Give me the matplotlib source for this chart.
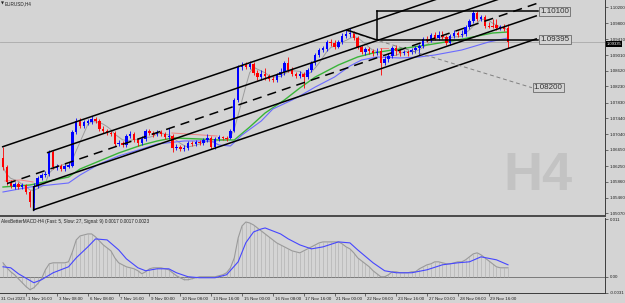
import matplotlib
matplotlib.use("Agg")
import matplotlib.pyplot as plt
import numpy as np
import pandas as pd

plt.rcParams['font.family'] = ['Liberation Sans', 'DejaVu Sans']

# ---------------- data (EURUSD H4) ----------------
opens = [1.06451, 1.06227, 1.05854, 1.05729, 1.05804, 1.05729, 1.05779, 1.05605, 1.05331, 1.05754,
         1.05953, 1.06028, 1.06053, 1.06600, 1.06202, 1.06252, 1.06177, 1.06227, 1.06252, 1.07098,
         1.07372, 1.07247, 1.07322, 1.07347, 1.07421, 1.07372, 1.07173, 1.07123, 1.07073, 1.07073,
         1.06799, 1.06824, 1.06774, 1.06998, 1.07048, 1.06899, 1.06824, 1.06924, 1.07123, 1.07073,
         1.07048, 1.07098, 1.07048, 1.06973, 1.06998, 1.06700, 1.06725, 1.06675, 1.06700, 1.06824,
         1.06799, 1.06849, 1.06824, 1.06899, 1.06949, 1.06725, 1.06924, 1.06973, 1.06949, 1.06949,
         1.07123, 1.07894, 1.08715, 1.08765, 1.08715, 1.08790, 1.08566, 1.08466, 1.08541, 1.08491,
         1.08417, 1.08392, 1.08516, 1.08591, 1.08815, 1.08640, 1.08541, 1.08491, 1.08541, 1.08466,
         1.08640, 1.08815, 1.09014, 1.09138, 1.09163, 1.09337, 1.09312, 1.09213, 1.09337, 1.09486,
         1.09536, 1.09561, 1.09437, 1.09213, 1.09088, 1.09163, 1.09113, 1.09063, 1.09113, 1.08815,
         1.08914, 1.08989, 1.09188, 1.09113, 1.09063, 1.09088, 1.09088, 1.09138, 1.09188, 1.09238,
         1.09412, 1.09387, 1.09511, 1.09437, 1.09511, 1.09461, 1.09312, 1.09486, 1.09561, 1.09511,
         1.09536, 1.09710, 1.09860, 1.10059, 1.09909, 1.09959, 1.09735, 1.09735, 1.09760, 1.09685,
         1.09710, 1.09685]
highs = [1.06725, 1.06277, 1.05904, 1.05854, 1.05854, 1.05829, 1.05804, 1.05655, 1.05829, 1.06003,
         1.06078, 1.06128, 1.06650, 1.06650, 1.06302, 1.06302, 1.06302, 1.06351, 1.07148, 1.07446,
         1.07446, 1.07396, 1.07421, 1.07496, 1.07471, 1.07421, 1.07247, 1.07173, 1.07123, 1.07123,
         1.06899, 1.06874, 1.07048, 1.07123, 1.07098, 1.06949, 1.06998, 1.07173, 1.07173, 1.07123,
         1.07148, 1.07148, 1.07098, 1.07197, 1.07048, 1.06799, 1.06774, 1.06774, 1.06874, 1.06874,
         1.06899, 1.06899, 1.06949, 1.07048, 1.06998, 1.06973, 1.07023, 1.06998, 1.06998, 1.07173,
         1.07944, 1.08765, 1.08839, 1.08839, 1.08864, 1.08839, 1.08640, 1.08640, 1.08690, 1.08541,
         1.08491, 1.08566, 1.08690, 1.08864, 1.08964, 1.08715, 1.08591, 1.08616, 1.08591, 1.08690,
         1.08864, 1.09063, 1.09188, 1.09238, 1.09387, 1.09412, 1.09387, 1.09387, 1.09561, 1.09636,
         1.09685, 1.09611, 1.09486, 1.09262, 1.09213, 1.09213, 1.09163, 1.09188, 1.09188, 1.08989,
         1.09063, 1.09238, 1.09262, 1.09163, 1.09138, 1.09138, 1.09188, 1.09238, 1.09287, 1.09461,
         1.09486, 1.09561, 1.09586, 1.09611, 1.09611, 1.09511, 1.09536, 1.09636, 1.09611, 1.09636,
         1.09760, 1.09909, 1.10133, 1.10108, 1.10009, 1.10009, 1.09835, 1.09909, 1.09909, 1.09760,
         1.09785, 1.09785]
lows = [1.06152, 1.05779, 1.05705, 1.05680, 1.05680, 1.05680, 1.05555, 1.05232, 1.05157, 1.05705,
        1.05904, 1.05978, 1.06003, 1.06177, 1.06152, 1.06128, 1.06128, 1.06202, 1.06227, 1.07048,
        1.07197, 1.07197, 1.07272, 1.07297, 1.07322, 1.07123, 1.07073, 1.07023, 1.06998, 1.06750,
        1.06750, 1.06725, 1.06725, 1.06949, 1.06849, 1.06750, 1.06774, 1.06874, 1.07023, 1.06973,
        1.06998, 1.06998, 1.06924, 1.06924, 1.06600, 1.06650, 1.06625, 1.06625, 1.06650, 1.06750,
        1.06750, 1.06774, 1.06774, 1.06849, 1.06675, 1.06675, 1.06874, 1.06899, 1.06874, 1.06924,
        1.07098, 1.07844, 1.08640, 1.08665, 1.08665, 1.08516, 1.08392, 1.08392, 1.08392, 1.08367,
        1.08342, 1.08342, 1.08466, 1.08516, 1.08591, 1.08491, 1.08441, 1.08441, 1.08193, 1.08417,
        1.08591, 1.08765, 1.08964, 1.09088, 1.09113, 1.09238, 1.09163, 1.09188, 1.09287, 1.09437,
        1.09461, 1.09387, 1.09163, 1.09039, 1.09014, 1.09039, 1.08989, 1.09014, 1.08516, 1.08765,
        1.08839, 1.08939, 1.09014, 1.08989, 1.09014, 1.08989, 1.09039, 1.09063, 1.09014, 1.09188,
        1.09337, 1.09337, 1.09387, 1.09387, 1.09412, 1.09262, 1.09262, 1.09437, 1.09461, 1.09461,
        1.09486, 1.09661, 1.09810, 1.09860, 1.09860, 1.09685, 1.09685, 1.09685, 1.09636, 1.09636,
        1.09611, 1.09188]
closes = [1.06227, 1.05854, 1.05754, 1.05804, 1.05729, 1.05779, 1.05605, 1.05356, 1.05754, 1.05953,
          1.06028, 1.06053, 1.06600, 1.06227, 1.06252, 1.06177, 1.06252, 1.06277, 1.07098, 1.07372,
          1.07247, 1.07347, 1.07372, 1.07421, 1.07372, 1.07173, 1.07123, 1.07073, 1.07048, 1.06799,
          1.06824, 1.06774, 1.06998, 1.07048, 1.06899, 1.06824, 1.06924, 1.07123, 1.07073, 1.07023,
          1.07098, 1.07048, 1.06973, 1.06998, 1.06700, 1.06725, 1.06675, 1.06700, 1.06824, 1.06799,
          1.06849, 1.06824, 1.06899, 1.06949, 1.06725, 1.06924, 1.06973, 1.06949, 1.06924, 1.07123,
          1.07894, 1.08715, 1.08765, 1.08715, 1.08790, 1.08566, 1.08466, 1.08541, 1.08491, 1.08417,
          1.08392, 1.08516, 1.08591, 1.08815, 1.08640, 1.08541, 1.08491, 1.08541, 1.08466, 1.08640,
          1.08815, 1.09014, 1.09138, 1.09188, 1.09337, 1.09312, 1.09213, 1.09337, 1.09486, 1.09536,
          1.09561, 1.09437, 1.09213, 1.09088, 1.09163, 1.09113, 1.09063, 1.09088, 1.08815, 1.08914,
          1.08989, 1.09188, 1.09113, 1.09063, 1.09088, 1.09063, 1.09138, 1.09188, 1.09238, 1.09412,
          1.09387, 1.09511, 1.09437, 1.09511, 1.09461, 1.09312, 1.09486, 1.09561, 1.09511, 1.09536,
          1.09710, 1.09860, 1.10059, 1.09909, 1.09959, 1.09735, 1.09710, 1.09710, 1.09685, 1.09710,
          1.09661, 1.09337]

# moving averages (at sample bars)
green_bars = [0, 7, 12, 17, 20, 25, 30, 33, 36, 40, 44, 51, 56, 60, 64, 68, 73, 77, 81, 87,
              92, 96, 101, 110, 118, 127, 131]
green_vals = [1.05729, 1.05779, 1.05879, 1.05978, 1.06177, 1.06376, 1.06575, 1.06675, 1.06774, 1.06874,
              1.06949, 1.06924, 1.06899, 1.06899, 1.07222, 1.07571, 1.07894, 1.08193, 1.08466, 1.08765,
              1.08964, 1.09063, 1.09138, 1.09262, 1.09387, 1.09561, 1.09586]
blue_bars = [0, 7, 12, 17, 20, 25, 30, 36, 40, 47, 54, 56, 59, 62, 67, 70, 75, 77, 81, 86,
             90, 93, 97, 103, 108, 112, 119, 126, 131]
blue_vals = [1.05605, 1.05729, 1.05779, 1.05829, 1.06028, 1.06302, 1.06501, 1.06675, 1.06799, 1.06874,
             1.06874, 1.06774, 1.06750, 1.07023, 1.07372, 1.07670, 1.07894, 1.07994, 1.08217, 1.08466,
             1.08740, 1.08889, 1.08964, 1.08939, 1.08964, 1.09014, 1.09138, 1.09337, 1.09437]

# MACD (Fast 5, Slow 27, Signal 9)
macd_main = [0.00266, 0.00171, 0.00095, 0.00038, -0.00038, -0.00114, -0.0019, -0.00247, -0.00209, -0.00133,
             -0.00038, 0.00133, 0.00247, 0.00266, 0.00266, 0.00266, 0.00266, 0.00285, 0.00475, 0.00703,
             0.00779, 0.00798, 0.00817, 0.00817, 0.0076, 0.00684, 0.00608, 0.00551, 0.00494, 0.00361,
             0.00266, 0.00228, 0.0019, 0.00171, 0.00152, 0.00114, 0.00057, 0.00095, 0.00152, 0.00171,
             0.00171, 0.00171, 0.00152, 0.00133, 0.00076, 0.00019, -0.00019, -0.00057, -0.00057, -0.00038,
             -0.00019, 0.0, 0.0, 0.0, 0.0, 0.0, 0.00019, 0.00038, 0.00076, 0.00171,
             0.00361, 0.00741, 0.00969, 0.01045, 0.01026, 0.00988, 0.00931, 0.00874, 0.00817, 0.0076,
             0.00703, 0.00646, 0.00608, 0.0057, 0.00532, 0.00494, 0.00475, 0.00456, 0.00494, 0.00532,
             0.0057, 0.00608, 0.00646, 0.00665, 0.00665, 0.00665, 0.00665, 0.00665, 0.00627, 0.0057,
             0.00532, 0.00456, 0.00361, 0.00304, 0.00247, 0.0019, 0.00114, 0.00057, 0.0, 0.0,
             0.00038, 0.00095, 0.00095, 0.00076, 0.00076, 0.00076, 0.00095, 0.00095, 0.00152, 0.0019,
             0.00228, 0.00247, 0.00285, 0.00285, 0.00266, 0.00247, 0.00247, 0.00266, 0.00285, 0.00285,
             0.00323, 0.0038, 0.00437, 0.00456, 0.00418, 0.00361, 0.00304, 0.00247, 0.0019, 0.00171,
             0.00171, 0.00171]
sig_bars = [0, 2, 4, 8, 10, 13, 17, 19, 22, 24, 27, 30, 32, 35, 37, 40, 43, 45, 48, 51,
            55, 58, 61, 63, 65, 67, 68, 70, 72, 74, 77, 80, 83, 87, 90, 92, 96, 99, 102, 106,
            110, 114, 118, 121, 124, 128, 131]
sig_vals = [0.0019, 0.00171, 0.00057, -0.00114, -0.00057, 0.00076, 0.0019, 0.00361, 0.0057, 0.00722,
            0.00703, 0.00513, 0.00342, 0.00171, 0.00114, 0.00152, 0.00152, 0.00076, 0.0, -0.00019,
            -0.00019, 0.00038, 0.00285, 0.0065, 0.00855, 0.00912, 0.00931, 0.00874, 0.00817, 0.00722,
            0.00608, 0.00532, 0.0057, 0.00665, 0.00646, 0.00513, 0.00266, 0.00114, 0.00076, 0.00076,
            0.00133, 0.00228, 0.00266, 0.00285, 0.0038, 0.00323, 0.00228]

price_ticks = [1.10200, 1.09800, 1.09410, 1.09010, 1.08620, 1.08230, 1.07830, 1.07440,
               1.07040, 1.06650, 1.06250, 1.05860, 1.05460, 1.05070]
macd_ticks = [0.011, 0.0, -0.0031]
macd_tick_labels = ['0.011', '0.00', '-0.0031']
date_bars = [6, 14, 22, 30, 38, 46, 54, 62, 70, 78, 86, 94, 102, 110, 118, 126]
date_labels = ['1 Nov 16:00', '3 Nov 08:00', '6 Nov 08:00', '7 Nov 16:00', '9 Nov 00:00',
               '10 Nov 08:00', '13 Nov 16:00', '15 Nov 00:00', '16 Nov 08:00', '17 Nov 16:00',
               '21 Nov 00:00', '22 Nov 08:00', '23 Nov 16:00', '27 Nov 00:00', '28 Nov 08:00',
               '29 Nov 16:00']

# drawn objects (bar index, price)
channel_solid = [([-0.26, 138.5], [1.06725, 1.11250]),
                 ([11.4, 138.5], [1.06580, 1.10725]),
                 ([7.78, 138.5], [1.05729, 1.09992]),
                 ([7.78, 138.5], [1.05157, 1.09420])]
channel_dashed = ([1.04, 138.5], [1.05814, 1.10297])
hlines_levels = [1.10100, 1.09395]
hline_span = [97.0, 138.8]
target_line = ([89.2, 137.2], [1.09611, 1.08200])
handle_line = ([89.2, 97.0], [1.09636, 1.09387])
red_segments = [([0.5, 4.5, 7.8], [1.05880, 1.05904, 1.05854]),
                ([43.8, 55.5], [1.07073, 1.06998]),
                ([97.8, 99.9], [1.09188, 1.09188])]
bid_price = 1.09337

# ---------------- layout ----------------
BG = '#d4d4d4'
W, H = 625, 303
def fx(x): return x / W
def fy(y): return 1 - y / H

MAIN_BOT = 215.5
IND_TOP, IND_BOT = 218, 293
RIGHT = 605
DX, X0 = 3.855, 3.0
XL = (-X0 / DX, (RIGHT - X0) / DX)

fig = plt.figure(figsize=(6.25, 3.03), dpi=100, facecolor=BG)
ax = fig.add_axes([0, fy(MAIN_BOT), RIGHT / W, MAIN_BOT / H])
ax2 = fig.add_axes([0, fy(IND_BOT), RIGHT / W, (IND_BOT - IND_TOP) / H])
for a in (ax, ax2):
    a.set_facecolor(BG)
    a.set_xlim(*XL)
    a.spines['left'].set_visible(False)
    a.spines['top'].set_visible(False)
    a.spines['right'].set_color('#3c3c3c')
    a.spines['right'].set_linewidth(0.7)
ax.spines['bottom'].set_color('#4a4a4a')
ax.spines['bottom'].set_linewidth(1.4)
ax2.spines['bottom'].set_color('#3c3c3c')
ax2.spines['bottom'].set_linewidth(0.7)
ax.set_ylim(1.05020, 1.10382)
ax2.set_ylim(-0.0031, 0.01121)

# watermark
ax.text(0.8314, 0.118, 'H4', transform=ax.transAxes, fontsize=39, fontweight='bold',
        color='#c3c3c3', ha='left', va='baseline', zorder=0.5)

# bid line
ax.axhline(bid_price, color='#a9a9a9', lw=0.6, zorder=1)

# candles
idx = np.arange(len(closes))
o = np.array(opens); c = np.array(closes); h = np.array(highs); l = np.array(lows)
up = c >= o
cols = np.where(up, '#0000ff', '#ff0000')
ax.vlines(idx, l, h, colors=cols, lw=0.6, zorder=4)
ax.bar(idx, np.maximum(np.abs(c - o), 0.00008), bottom=np.minimum(o, c), width=0.62,
       color=cols, lw=0, zorder=5)

# moving averages
ax.plot(idx, pd.Series(c).rolling(5, min_periods=1).mean(), color='#9c9c9c', lw=0.7, zorder=3)
ax.plot(green_bars, green_vals, color='#38b438', lw=1.0, zorder=3)
ax.plot(blue_bars, blue_vals, color='#6a6aff', lw=0.8, zorder=3)
for xs, ys in red_segments:
    ax.plot(xs, ys, color='#f08080', lw=0.7, zorder=3)

# channel & objects
for xs, ys in channel_solid:
    ax.plot(xs, ys, color='black', lw=1.1, zorder=6, solid_capstyle='butt')
ax.plot(*channel_dashed, color='black', lw=1.1, ls=(0, (6, 4)), zorder=6)
ax.plot([7.78, 7.78], [channel_solid[3][1][0], channel_solid[2][1][0]], color='black', lw=0.9, zorder=6)
for lvl in hlines_levels:
    ax.plot(hline_span, [lvl, lvl], color='black', lw=1.1, zorder=6)
ax.plot([hline_span[0]] * 2, hlines_levels, color='black', lw=1.1, zorder=6)
ax.plot(*target_line, color='#808080', lw=0.7, ls=(0, (4, 3)), zorder=6)
ax.plot(*handle_line, color='black', lw=1.1, zorder=6)

box = dict(boxstyle='square,pad=0.15', fc=BG, ec='#6a6a6a', lw=0.6)
ax.text(139.4, hlines_levels[0], '1.10100', fontsize=5.8, va='center', ha='left', color='#303030', bbox=box, zorder=7)
ax.text(139.4, hlines_levels[1], '1.09395', fontsize=5.8, va='center', ha='left', color='#303030', bbox=box, zorder=7)
ax.text(137.7, target_line[1][1], '1.08200', fontsize=5.8, va='center', ha='left', color='#303030', bbox=box, zorder=7)

# axes ticks
ax.yaxis.tick_right()
ax.set_yticks(price_ticks)
ax.set_yticklabels([f'{v:.5f}' for v in price_ticks])
ax.tick_params(axis='y', direction='out', length=2, width=0.5, color='#3c3c3c',
               labelsize=3.2, pad=1.2, labelcolor='#202020')
ax.tick_params(axis='x', bottom=False, labelbottom=False)

ax2.yaxis.tick_right()
ax2.set_yticks(macd_ticks)
ax2.set_yticklabels(macd_tick_labels)
ax2.tick_params(axis='y', direction='out', length=2, width=0.5, color='#3c3c3c',
                labelsize=3.2, pad=1.2, labelcolor='#202020')
ax2.set_xticks(date_bars)
ax2.set_xticklabels([])
ax2.tick_params(axis='x', direction='out', length=2, width=0.5, color='#3c3c3c')
for b, lab in zip(date_bars, date_labels):
    ax2.text(b + 0.45, -0.075, lab, transform=ax2.get_xaxis_transform(), ha='left', va='center',
             fontsize=3.15, color='#202020')
ax2.text(XL[0] + 0.3, -0.075, '31 Oct 2023', transform=ax2.get_xaxis_transform(), ha='left',
         va='center', fontsize=3.15, color='#202020')

# MACD panel
ax2.axhline(0, color='#7a7a7a', lw=0.7, zorder=1)
ax2.vlines(idx, 0, macd_main, colors='#b0b0b0', lw=0.45, zorder=2)
ax2.plot(idx, macd_main, color='#9a9a9a', lw=0.8, zorder=3)
ax2.plot(sig_bars, sig_vals, color='#4646ff', lw=0.8, zorder=4)

# texts
fig.text(fx(0.5), fy(3.5), '\u25bc', fontsize=2.8, family='DejaVu Sans', va='center', color='#202020')
fig.text(fx(5), fy(3.5), 'EURUSD,H4', fontsize=3.3, va='center', color='#202020')
fig.text(fx(1), fy(221.5), 'AlexBetterMACD-H4 (Fast: 5, Slow: 27, Signal: 9) 0.0017 0.0017 0.0023',
         fontsize=3.3, va='center', color='#202020')
fig.text(fx(606.8), fy(44.2), '1.09335', fontsize=3.0, color='white', va='center', ha='left',
         bbox=dict(boxstyle='square,pad=0.2', fc='black', ec='black', lw=0))

fig.savefig('out.png', dpi=100, facecolor=BG)
